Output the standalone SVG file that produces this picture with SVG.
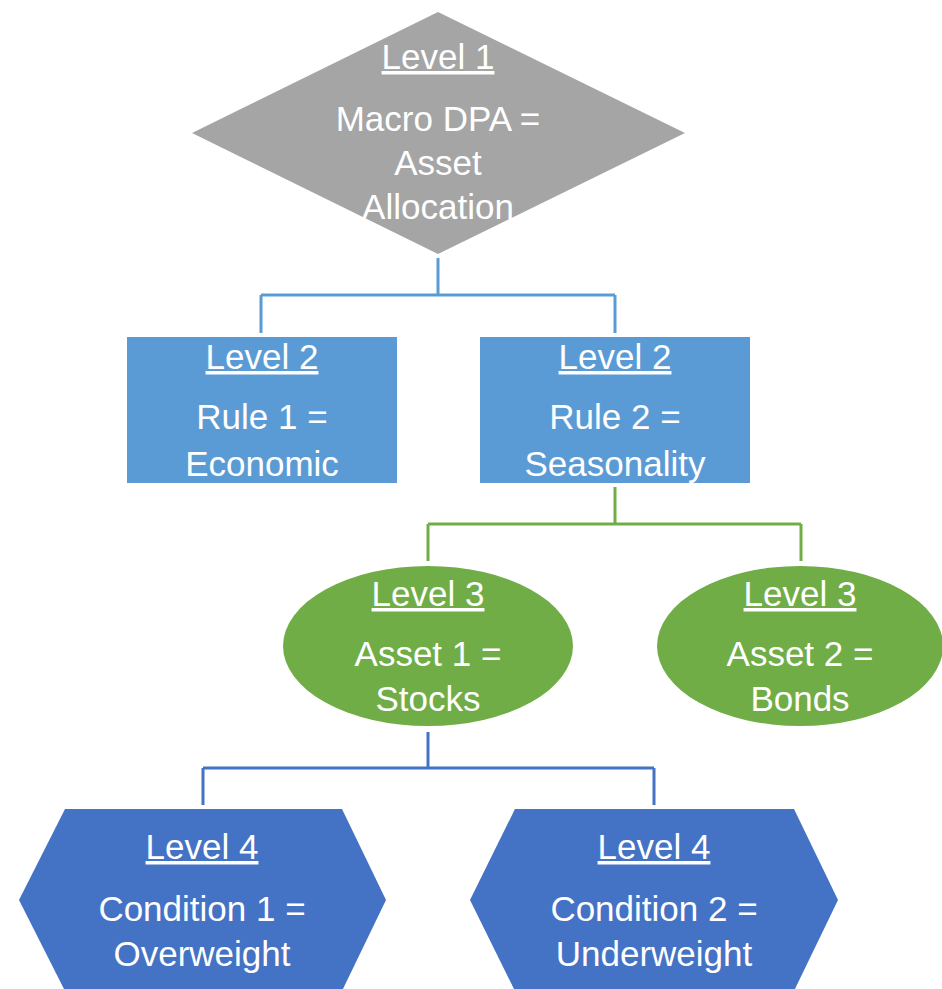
<svg xmlns="http://www.w3.org/2000/svg" width="942" height="989" viewBox="0 0 942 989">
<style>
text{font-family:"Liberation Sans",Arial,sans-serif;font-size:35px;fill:#ffffff;text-anchor:middle}
.u{text-decoration:underline}
.c1{fill:none;stroke:#5b9bd5;stroke-width:3}
.c2{fill:none;stroke:#70ad47;stroke-width:3}
.c3{fill:none;stroke:#4472c4;stroke-width:3}
</style>
<rect width="942" height="989" fill="#ffffff"/>
<g id="connectors">
<path class="c1" d="M438,258 V295 M261,295 H615 M261,295 V333 M615,295 V333"/>
<path class="c2" d="M615,487 V524 M428,524 H801 M428,524 V561 M801,524 V561"/>
<path class="c3" d="M428,732 V768 M203,768 H654 M203,768 V805 M654,768 V805"/>
</g>
<g id="level1">
<polygon points="438,12 685,133 438,254 192,133" fill="#a5a5a5"/>
<text x="438" y="69" class="u">Level 1</text>
<text x="438" y="131">Macro DPA =</text>
<text x="438" y="175">Asset</text>
<text x="438" y="219">Allocation</text>
</g>
<g id="rule1">
<rect x="127" y="337" width="270" height="146" fill="#5b9bd5"/>
<text x="262" y="369" class="u">Level 2</text>
<text x="262" y="429">Rule 1 =</text>
<text x="262" y="476">Economic</text>
</g>
<g id="rule2">
<rect x="480" y="337" width="270" height="146" fill="#5b9bd5"/>
<text x="615" y="369" class="u">Level 2</text>
<text x="615" y="429">Rule 2 =</text>
<text x="615" y="476">Seasonality</text>
</g>
<g id="asset1">
<ellipse cx="428" cy="646" rx="145" ry="80" fill="#70ad47"/>
<text x="428" y="606" class="u">Level 3</text>
<text x="428" y="666">Asset 1 =</text>
<text x="428" y="711">Stocks</text>
</g>
<g id="asset2">
<ellipse cx="800" cy="646" rx="143" ry="80" fill="#70ad47"/>
<text x="800" y="606" class="u">Level 3</text>
<text x="800" y="666">Asset 2 =</text>
<text x="800" y="711">Bonds</text>
</g>
<g id="condition1">
<polygon points="65,809 342,809 386,900 342,991 65,991 19,900" fill="#4472c4"/>
<text x="202" y="859" class="u">Level 4</text>
<text x="202" y="921">Condition 1 =</text>
<text x="202" y="966">Overweight</text>
</g>
<g id="condition2">
<polygon points="515,809 794,809 838,900 794,991 515,991 470,900" fill="#4472c4"/>
<text x="654" y="859" class="u">Level 4</text>
<text x="654" y="921">Condition 2 =</text>
<text x="654" y="966">Underweight</text>
</g>
</svg>
